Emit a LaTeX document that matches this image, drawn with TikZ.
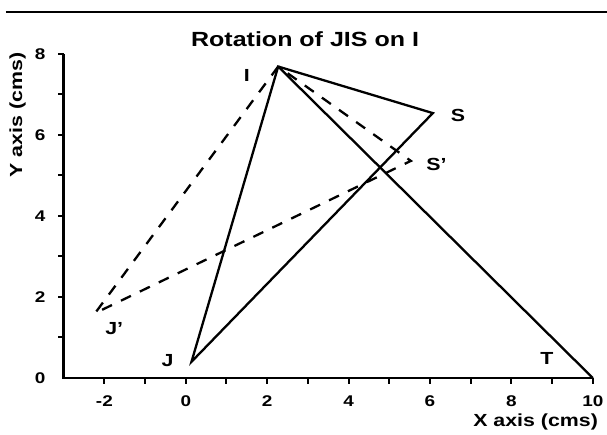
\documentclass[tikz,border=0pt]{standalone}
\usepackage{fontspec}
\setmainfont{Liberation Sans}[FakeStretch=1.22]
\begin{document}
\begin{tikzpicture}[x=40.7pt,y=40.5pt,
  lbl/.style={font=\fontsize{17.5}{17.5}\selectfont\bfseries,inner sep=0pt},
  ticklbl/.style={font=\fontsize{15.5}{15.5}\selectfont\bfseries,inner sep=0pt},
  axislbl/.style={font=\fontsize{17.5}{17.5}\selectfont\bfseries,inner sep=0pt},
  edge/.style={line width=2.3pt},
  moved/.style={line width=2.3pt,dash pattern=on 11pt off 10pt}]
  \useasboundingbox (-4.565,-1.383) rectangle (10.349,9.333);
  \draw[line width=2.4pt] (-4.42,9.037) -- (10.349,9.037);
  \node[font=\fontsize{20.5}{20.5}\selectfont\bfseries] (title) at (2.93,8.375) {Rotation of JIS on I};
  \draw[line width=2.5pt] (-3,8) -- (-3,0) -- (10,0);
  \foreach \x in {-2,...,10} \draw[line width=2pt] (\x,0) -- (\x,-0.15);
  \foreach \y in {1,...,8} \draw[line width=2pt] (-3,\y) -- (-3.13,\y);
  \foreach \x in {-2,0,...,10} \node[ticklbl] at (\x,-0.56) {\x};
  \foreach \y in {0,2,...,8} \node[ticklbl] at (-3.58,\y) {\y};
  \node[axislbl,anchor=east] (xlab) at (10.13,-1.08) {X axis (cms)};
  \node[axislbl,rotate=90] (ylab) at (-4.13,6.49) {Y axis (cms)};
  \coordinate (I) at (2.27,7.69);
  \coordinate (S) at (6.07,6.54);
  \coordinate (J) at (0.14,0.40);
  \coordinate (T) at (10,0);
  \coordinate (Jp) at (-2.23,1.60);
  \coordinate (Sp) at (5.53,5.36);
  \draw[edge] (J) -- (I) -- (S) -- cycle;
  \draw[edge] (I) -- (T);
  \draw[moved] (I) -- (Jp) -- (Sp) -- cycle;
  \node[lbl] (lI) at (1.50,7.48) {I};
  \node[lbl] (lS) at (6.69,6.47) {S};
  \node[lbl] (lSp) at (6.16,5.26) {S'};
  \node[lbl] (lJp) at (-1.76,1.22) {J'};
  \node[lbl] (lJ) at (-0.45,0.44) {J};
  \node[lbl] (lT) at (8.87,0.48) {T};
\end{tikzpicture}
\end{document}
